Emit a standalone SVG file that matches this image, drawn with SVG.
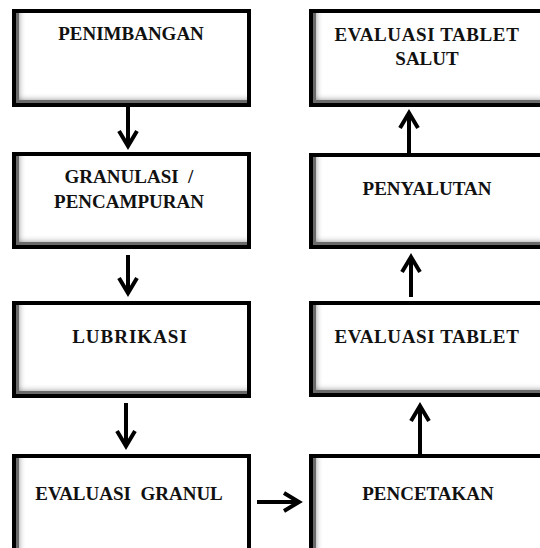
<svg xmlns="http://www.w3.org/2000/svg" width="540" height="548" viewBox="0 0 540 548">
  <style>
    .box { fill: #fff; filter: url(#inner); }
    .edge { fill: none; stroke: #000; stroke-width: 4; }
    .lbl { font-family: "Liberation Serif", "Times New Roman", serif; font-weight: bold; font-size: 19px; fill: #111; text-anchor: middle; white-space: pre; }
    .arrow { fill: none; stroke: #000; stroke-width: 4; marker-end: url(#chev); }
  </style>
  <defs>
    <!-- soft grey shading along the inner left and bottom edges -->
    <filter id="inner" x="0" y="0" width="1" height="1">
      <feFlood flood-color="#6a6a6a" result="c"/>
      <feGaussianBlur in="SourceAlpha" stdDeviation="3" result="b"/>
      <feOffset in="b" dx="5" dy="-5" result="o"/>
      <feComposite in="SourceAlpha" in2="o" operator="out" result="ring"/>
      <feComposite in="c" in2="ring" operator="in" result="sh"/>
      <feMerge>
        <feMergeNode in="SourceGraphic"/>
        <feMergeNode in="sh"/>
      </feMerge>
    </filter>
    <!-- open chevron arrowhead -->
    <marker id="chev" markerUnits="userSpaceOnUse" markerWidth="30" markerHeight="30" refX="0" refY="0" orient="auto" overflow="visible">
      <path d="M-15,-9 L0,0 L-15,9" fill="none" stroke="#000" stroke-width="4" stroke-linejoin="miter"/>
    </marker>
  </defs>

  <g id="penimbangan">
    <rect class="box" x="14" y="11" width="235" height="94"/>
    <rect class="edge" x="14" y="11" width="235" height="94"/>
    <text class="lbl" x="131" y="40">PENIMBANGAN</text>
  </g>
  <g id="granulasi">
    <rect class="box" x="14" y="154" width="235" height="93"/>
    <rect class="edge" x="14" y="154" width="235" height="93"/>
    <text class="lbl" x="129" y="183">GRANULASI  /</text>
    <text class="lbl" x="129" y="208">PENCAMPURAN</text>
  </g>
  <g id="lubrikasi">
    <rect class="box" x="14" y="303" width="235" height="93"/>
    <rect class="edge" x="14" y="303" width="235" height="93"/>
    <text class="lbl" x="130" y="343" letter-spacing="1">LUBRIKASI</text>
  </g>
  <g id="evaluasi-granul">
    <rect class="box" x="14" y="456" width="235" height="120"/>
    <rect class="edge" x="14" y="456" width="235" height="120"/>
    <text class="lbl" x="129" y="500">EVALUASI  GRANUL</text>
  </g>

  <g id="evaluasi-tablet-salut">
    <rect class="box" x="311" y="11" width="250" height="94"/>
    <rect class="edge" x="311" y="11" width="250" height="94"/>
    <text class="lbl" x="427" y="41" letter-spacing="0.6">EVALUASI TABLET</text>
    <text class="lbl" x="427" y="65">SALUT</text>
  </g>
  <g id="penyalutan">
    <rect class="box" x="311" y="155" width="250" height="92"/>
    <rect class="edge" x="311" y="155" width="250" height="92"/>
    <text class="lbl" x="427" y="195">PENYALUTAN</text>
  </g>
  <g id="evaluasi-tablet">
    <rect class="box" x="311" y="303" width="250" height="92"/>
    <rect class="edge" x="311" y="303" width="250" height="92"/>
    <text class="lbl" x="427" y="343" letter-spacing="0.6">EVALUASI TABLET</text>
  </g>
  <g id="pencetakan">
    <rect class="box" x="311" y="456" width="250" height="120"/>
    <rect class="edge" x="311" y="456" width="250" height="120"/>
    <text class="lbl" x="428" y="500">PENCETAKAN</text>
  </g>

  <g id="connectors">
    <line class="arrow" x1="128" y1="107" x2="128" y2="146"/>
    <line class="arrow" x1="128" y1="255" x2="128" y2="293"/>
    <line class="arrow" x1="126" y1="403" x2="126" y2="446"/>
    <line class="arrow" x1="257" y1="502" x2="299" y2="502"/>
    <line class="arrow" x1="420" y1="454" x2="420" y2="406"/>
    <line class="arrow" x1="411" y1="297" x2="411" y2="257"/>
    <line class="arrow" x1="409" y1="153" x2="409" y2="113"/>
  </g>
</svg>
